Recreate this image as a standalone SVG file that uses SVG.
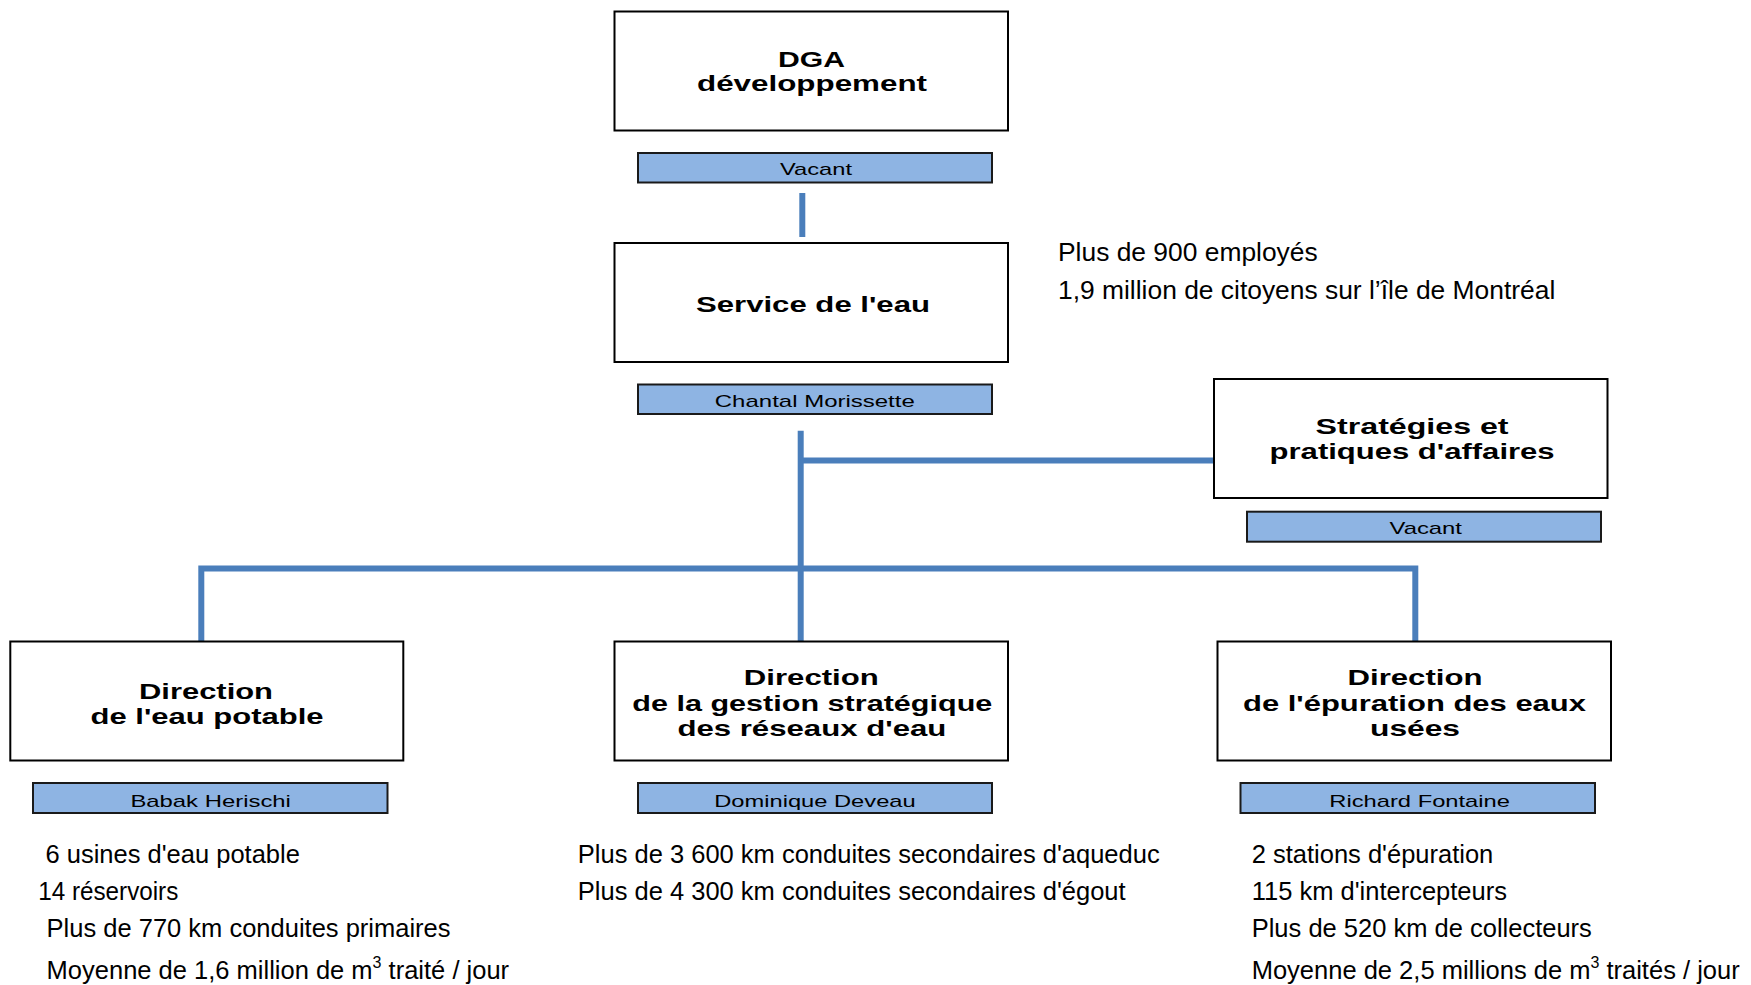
<svg xmlns="http://www.w3.org/2000/svg" width="1751" height="985" viewBox="0 0 1751 985">
<style>
.box{fill:#ffffff;stroke:#000000;stroke-width:2}
.bar{fill:#8EB4E3;stroke:#1a1a1a;stroke-width:2}
.h{font-family:"Liberation Sans",Arial,sans-serif;font-weight:bold;font-size:21.5px;fill:#000}
.b{font-family:"Liberation Sans",Arial,sans-serif;font-size:17px;fill:#000}
.t{font-family:"Liberation Sans",Arial,sans-serif;font-size:25.5px;fill:#000}
.i{font-family:"Liberation Sans",Arial,sans-serif;font-size:26.4px;fill:#000}
.sup{font-size:16px}
.con{fill:none;stroke:#4A7EBB;stroke-width:6;stroke-linecap:butt;stroke-linejoin:miter}
</style>
<rect width="1751" height="985" fill="#ffffff"/>
<g id="connectors">
<path class="con" d="M802.3,193 V237"/>
<path class="con" d="M800.7,430.7 V641"/>
<path class="con" d="M800.7,460.5 H1214"/>
<path class="con" d="M201.3,641 V568.5 H1415.3 V641"/>
</g>
<g id="dga">
<rect class="box" x="614.5" y="11.5" width="393.5" height="119"/>
<text class="h" x="778" y="66.7" textLength="67" lengthAdjust="spacingAndGlyphs">DGA</text>
<text class="h" x="697" y="90.7" textLength="230" lengthAdjust="spacingAndGlyphs">développement</text>
<rect class="bar" x="638" y="153" width="354" height="29.5"/>
<text class="b" x="780" y="175" textLength="72" lengthAdjust="spacingAndGlyphs">Vacant</text>
</g>
<g id="service">
<rect class="box" x="614.5" y="243" width="393.5" height="119"/>
<text class="h" x="696" y="311.7" textLength="234" lengthAdjust="spacingAndGlyphs">Service de l'eau</text>
<rect class="bar" x="638" y="384.5" width="354" height="29.5"/>
<text class="b" x="714.8" y="406.7" textLength="200" lengthAdjust="spacingAndGlyphs">Chantal Morissette</text>
</g>
<g id="info">
<text class="i" x="1058" y="261">Plus de 900 employés</text>
<text class="i" x="1058" y="299">1,9 million de citoyens sur l’île de Montréal</text>
</g>
<g id="strategies">
<rect class="box" x="1214" y="379" width="393.5" height="119"/>
<text class="h" x="1315.6" y="434" textLength="193" lengthAdjust="spacingAndGlyphs">Stratégies et</text>
<text class="h" x="1269.6" y="459.3" textLength="285" lengthAdjust="spacingAndGlyphs">pratiques d'affaires</text>
<rect class="bar" x="1247" y="511.7" width="354" height="30"/>
<text class="b" x="1389.5" y="534.3" textLength="72.5" lengthAdjust="spacingAndGlyphs">Vacant</text>
</g>
<g id="eau-potable">
<rect class="box" x="10.3" y="641.5" width="393" height="119"/>
<text class="h" x="139" y="699.3" textLength="134" lengthAdjust="spacingAndGlyphs">Direction</text>
<text class="h" x="90.5" y="724" textLength="233" lengthAdjust="spacingAndGlyphs">de l'eau potable</text>
<rect class="bar" x="33" y="783" width="354.5" height="30"/>
<text class="b" x="130.4" y="806.7" textLength="160.5" lengthAdjust="spacingAndGlyphs">Babak Herischi</text>
<text class="t" x="45.5" y="863">6 usines d'eau potable</text>
<text class="t" x="38.3" y="900" textLength="140" lengthAdjust="spacingAndGlyphs">14 réservoirs</text>
<text class="t" x="46.6" y="937">Plus de 770 km conduites primaires</text>
<text class="t" x="46.6" y="979">Moyenne de 1,6 million de m<tspan class="sup" dy="-11">3</tspan><tspan dy="11"> traité / jour</tspan></text>
</g>
<g id="reseaux">
<rect class="box" x="614.5" y="641.5" width="393.5" height="119"/>
<text class="h" x="743.8" y="685.3" textLength="135" lengthAdjust="spacingAndGlyphs">Direction</text>
<text class="h" x="632.3" y="711" textLength="360" lengthAdjust="spacingAndGlyphs">de la gestion stratégique</text>
<text class="h" x="677.4" y="736" textLength="269" lengthAdjust="spacingAndGlyphs">des réseaux d'eau</text>
<rect class="bar" x="638" y="783" width="354" height="30"/>
<text class="b" x="714.2" y="806.7" textLength="201.5" lengthAdjust="spacingAndGlyphs">Dominique Deveau</text>
<text class="t" x="577.8" y="863">Plus de 3 600 km conduites secondaires d'aqueduc</text>
<text class="t" x="577.8" y="900">Plus de 4 300 km conduites secondaires d'égout</text>
</g>
<g id="epuration">
<rect class="box" x="1217.5" y="641.5" width="393.5" height="119"/>
<text class="h" x="1347.5" y="685.3" textLength="135" lengthAdjust="spacingAndGlyphs">Direction</text>
<text class="h" x="1243" y="711" textLength="343" lengthAdjust="spacingAndGlyphs">de l'épuration des eaux</text>
<text class="h" x="1370" y="736" textLength="90" lengthAdjust="spacingAndGlyphs">usées</text>
<rect class="bar" x="1240.5" y="783" width="354.5" height="30"/>
<text class="b" x="1329.3" y="806.7" textLength="180.7" lengthAdjust="spacingAndGlyphs">Richard Fontaine</text>
<text class="t" x="1251.7" y="863">2 stations d'épuration</text>
<text class="t" x="1251.7" y="900">115 km d'intercepteurs</text>
<text class="t" x="1251.7" y="937">Plus de 520 km de collecteurs</text>
<text class="t" x="1251.7" y="979">Moyenne de 2,5 millions de m<tspan class="sup" dy="-11">3</tspan><tspan dy="11"> traités / jour</tspan></text>
</g>
</svg>
